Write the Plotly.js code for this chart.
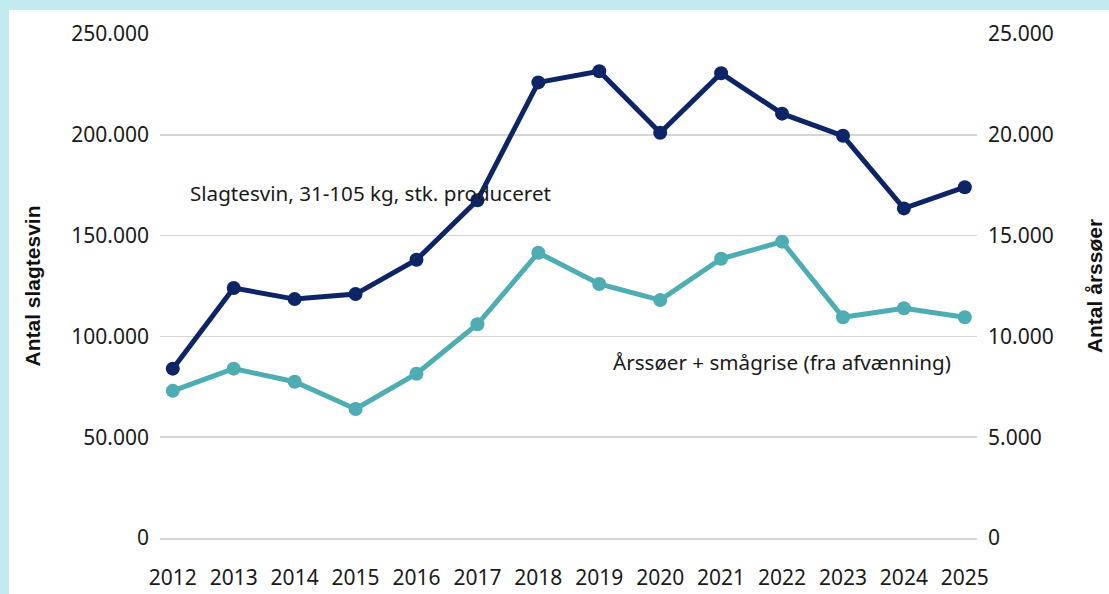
<!DOCTYPE html>
<html>
<head>
<meta charset="utf-8">
<script src="https://cdn.plot.ly/plotly-3.0.1.min.js"></script>
<style>
  html, body { margin: 0; padding: 0; background: #c1e9ee; width: 1109px; height: 594px; overflow: hidden; }
  #chart { position: absolute; left: 9px; top: 10px; width: 1100px; height: 584px; background: #ffffff; }
</style>
</head>
<body>
<div id="chart"></div>
<script>
const years = ["2012","2013","2014","2015","2016","2017","2018","2019","2020","2021","2022","2023","2024","2025"];
const slagtesvin = [84000, 124000, 118500, 121000, 138000, 167500, 226000, 231500, 201000, 230500, 210500, 199500, 163500, 174000];
const aarssoer = [7300, 8400, 7750, 6400, 8150, 10600, 14150, 12600, 11800, 13850, 14700, 10950, 11400, 10950];
const leftTicks = [0, 50000, 100000, 150000, 200000, 250000];
const leftTickText = ["0", "50.000", "100.000", "150.000", "200.000", "250.000"];
const rightTicks = [0, 5000, 10000, 15000, 20000, 25000];
const rightTickText = ["0", "5.000", "10.000", "15.000", "20.000", "25.000"];
const labelSlagtesvin = "Slagtesvin, 31-105 kg, stk. produceret";
const labelAarssoer = "Årssøer + smågrise (fra afvænning)";
const titleLeft = "Antal slagtesvin";
const titleRight = "Antal årssøer";

const navy = "#0d2566";
const teal = "#4eadb3";
const gridColor = "#d6d6d6";
const tickFont = { family: "Noto Sans, Open Sans, sans-serif", size: 21, color: "#1a1a1a" };
const titleFont = { family: "Liberation Sans, Arial, sans-serif", size: 21, color: "#111", weight: "bold" };
const annFont = { family: "Noto Sans, Open Sans, sans-serif", size: 20.6, color: "#1a1a1a" };

const traces = [
  {
    x: years, y: slagtesvin, type: "scatter", mode: "lines+markers", yaxis: "y",
    name: labelSlagtesvin,
    line: { color: navy, width: 5 }, marker: { color: navy, size: 14 },
    hoverinfo: "x+y"
  },
  {
    x: years, y: aarssoer, type: "scatter", mode: "lines+markers", yaxis: "y2",
    name: labelAarssoer,
    line: { color: teal, width: 5 }, marker: { color: teal, size: 14 },
    hoverinfo: "x+y"
  }
];

const layout = {
  width: 1100, height: 584,
  paper_bgcolor: "#ffffff", plot_bgcolor: "#ffffff",
  showlegend: false,
  margin: { l: 151, r: 132, t: 24, b: 56 },
  xaxis: {
    type: "category", range: [-0.21, 13.2],
    showgrid: false, zeroline: false,
    showline: true, linecolor: gridColor, linewidth: 1.5, layer: "below traces",
    ticks: "", tickfont: tickFont, ticklabelstandoff: 20, fixedrange: true
  },
  yaxis: {
    range: [0, 250000], tickvals: leftTicks, ticktext: leftTickText,
    showgrid: true, gridcolor: gridColor, gridwidth: 1.5,
    zeroline: false, showline: false,
    ticks: "", tickfont: tickFont, ticklabelstandoff: 10,
    title: { text: titleLeft, font: titleFont, standoff: 24 },
    automargin: false, fixedrange: true
  },
  yaxis2: {
    range: [0, 25000], tickvals: rightTicks, ticktext: rightTickText, overlaying: "y", side: "right",
    showgrid: false, zeroline: false, showline: false,
    ticks: "", tickfont: tickFont, ticklabelstandoff: 10,
    title: { text: titleRight, font: titleFont, standoff: 34 },
    automargin: false, fixedrange: true
  },
  annotations: [
    { text: labelSlagtesvin, xref: "paper", yref: "paper", x: 0.034, y: 0.685, xanchor: "left", yanchor: "middle",
      showarrow: false, font: annFont },
    { text: labelAarssoer, xref: "paper", yref: "paper", x: 0.552, y: 0.35, xanchor: "left", yanchor: "middle",
      showarrow: false, font: annFont }
  ]
};

Plotly.newPlot("chart", traces, layout, { displayModeBar: false, staticPlot: true });
</script>
</body>
</html>
